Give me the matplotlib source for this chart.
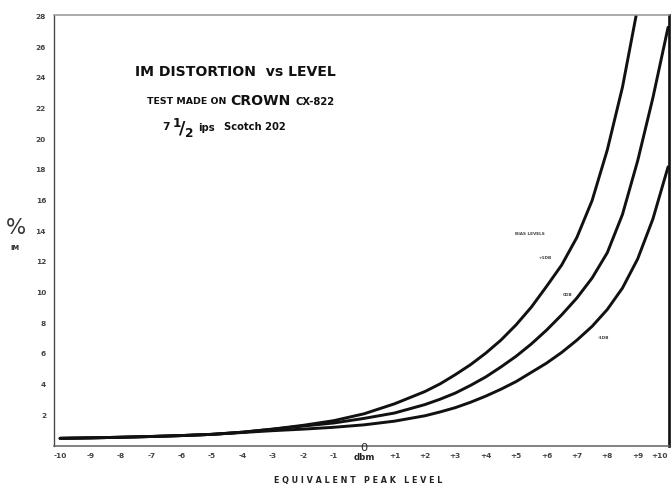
import numpy as np
import matplotlib.pyplot as plt

# 数据 (dBm, % IM) —— 从原图读取
dbm = [-10, -9, -8, -7, -6, -5, -4, -3, -2, -1, 0, 1, 2, 2.5, 3, 3.5, 4, 4.5, 5, 5.5,
       6, 6.5, 7, 7.5, 8, 8.5, 9, 9.5, 10]
im_plus1 = [0.5, 0.53, 0.57, 0.62, 0.68, 0.76, 0.9, 1.1, 1.35, 1.65, 2.1, 2.75, 3.55, 4.05, 4.65, 5.3, 6.05, 6.9,
            7.9, 9.05, 10.4, 11.8, 13.6, 16.0, 19.3, 23.4, 28.6, None, None]
im_zero = [0.5, 0.53, 0.57, 0.62, 0.68, 0.76, 0.9, 1.1, 1.3, 1.5, 1.8, 2.15, 2.7, 3.05, 3.45, 3.95, 4.5, 5.15,
           5.85, 6.65, 7.55, 8.55, 9.65, 10.95, 12.6, 15.1, 18.6, 22.7, 27.3]
im_minus1 = [0.5, 0.53, 0.57, 0.62, 0.68, 0.76, 0.88, 1.0, 1.1, 1.22, 1.38, 1.62, 1.97, 2.22, 2.5, 2.85, 3.25, 3.7,
             4.2, 4.8, 5.4, 6.1, 6.9, 7.8, 8.9, 10.3, 12.2, 14.8, 18.2]

y_ticks = list(range(2, 29, 2))
x_ticks = list(range(-10, 11))
x_labels = ['-10', '-9', '-8', '-7', '-6', '-5', '-4', '-3', '-2', '-1', '',
            '+1', '+2', '+3', '+4', '+5', '+6', '+7', '+8', '+9', '+10']
bias_labels = ['+1DB', '0DB', '-1DB']

W, H = 672, 492
fig = plt.figure(figsize=(W / 96, H / 96), dpi=96)
ax = fig.add_axes([54 / W, 1 - 446 / H, (669 - 54) / W, (446 - 15) / H])


def px(x, y):
    return x / W, 1 - y / H


def clean(xs, ys):
    pts = [(a, b) for a, b in zip(xs, ys) if b is not None]
    return [p[0] for p in pts], [p[1] for p in pts]


for series in (im_plus1, im_zero, im_minus1):
    xs, ys = clean(dbm, series)
    ax.plot(xs, ys, color='#111111', lw=2.2, solid_joinstyle='round', solid_capstyle='round')

ax.set_xlim(-10.2, 10.03)
ax.set_ylim(0, 28.1)
ax.set_yticks(y_ticks)
ax.set_yticklabels([str(v) for v in y_ticks], fontsize=5.5, fontweight='bold', color='#444444')
ax.set_xticks(x_ticks)
ax.set_xticklabels(x_labels, fontsize=5.5, fontweight='bold', color='#444444')
ax.get_xticklabels()[-1].set_horizontalalignment('right')
ax.tick_params(length=0)
ax.tick_params(axis='y', pad=6)
ax.tick_params(axis='x', pad=5)

ax.spines['top'].set_color('#999999')
ax.spines['top'].set_linewidth(1.2)
ax.spines['left'].set_color('#444444')
ax.spines['left'].set_linewidth(1.0)
ax.spines['bottom'].set_color('#666666')
ax.spines['bottom'].set_linewidth(1.2)
ax.spines['right'].set_color('#111111')
ax.spines['right'].set_linewidth(2.0)

# 0 dbm 标签
fig.text(*px(364, 448), '0', fontsize=8.5, ha='center', va='center', color='#222222')
fig.text(*px(364, 458), 'dbm', fontsize=6.5, fontweight='bold', ha='center', va='center', color='#222222')
fig.text(*px(358, 481), 'E Q U I V A L E N T   P E A K   L E V E L', fontsize=6,
         fontweight='bold', ha='center', va='center', color='#222222')

# y 轴标签
fig.text(*px(16, 228), '%', fontsize=16, ha='center', va='center', color='#333333')
fig.text(*px(15, 248), 'IM', fontsize=5, fontweight='bold', ha='center', va='center', color='#222222')

# 标题
fig.text(*px(135, 72), 'IM DISTORTION  vs LEVEL', fontsize=10.5, fontweight='bold',
         ha='left', va='center', color='#111111')
fig.text(*px(147, 102), 'TEST MADE ON', fontsize=7, fontweight='bold', ha='left', va='center', color='#111111')
fig.text(*px(230, 101), 'CROWN', fontsize=10.5, fontweight='bold', ha='left', va='center', color='#111111')
fig.text(*px(296, 102), 'CX-822', fontsize=7.5, fontweight='bold', ha='left', va='center', color='#111111')
fig.text(*px(162, 127), '7', fontsize=8, fontweight='bold', ha='left', va='center', color='#111111')
fig.text(*px(183, 128), r'$\mathbf{^1\!/_2}$', fontsize=13, ha='center', va='center', color='#111111')
fig.text(*px(198, 128), 'ips', fontsize=7.5, fontweight='bold', ha='left', va='center', color='#111111')
fig.text(*px(224, 127), 'Scotch 202', fontsize=7.5, fontweight='bold', ha='left', va='center', color='#111111')

# 偏置电平标注
fig.text(*px(530, 234), 'BIAS LEVELS', fontsize=3.2, fontweight='bold', ha='center', va='center', color='#444444')
for lbl, (lx, ly) in zip(bias_labels, [(545, 258), (568, 295), (604, 338)]):
    fig.text(*px(lx, ly), lbl, fontsize=3.2, fontweight='bold', ha='center', va='center', color='#444444')

fig.savefig('out.png', dpi=96)
